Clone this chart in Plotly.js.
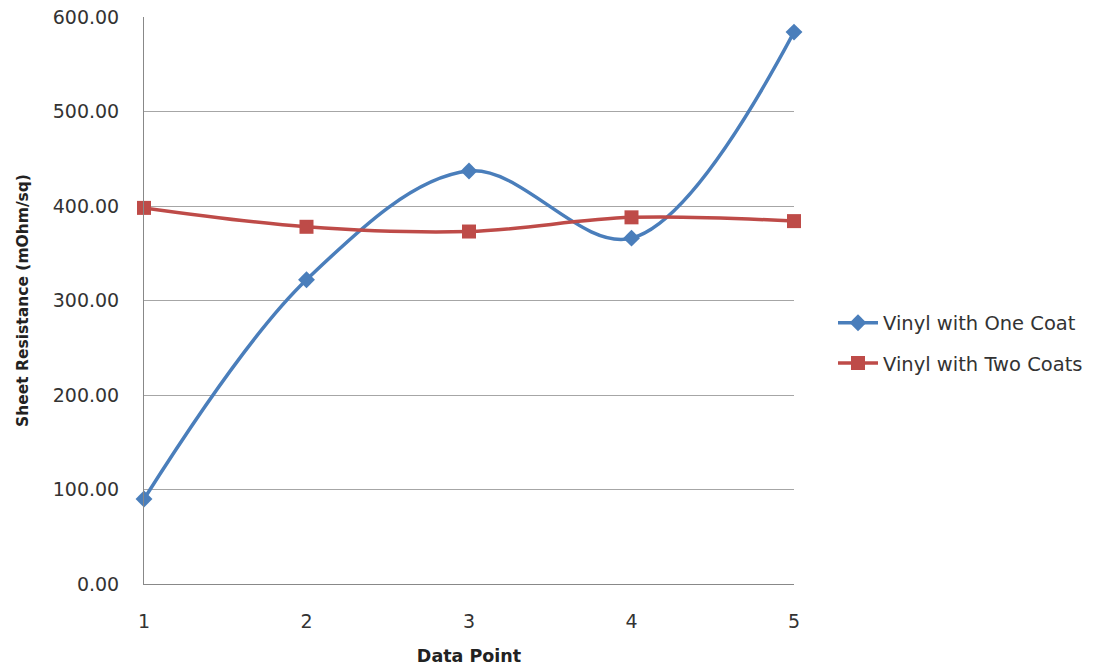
<!DOCTYPE html>
<html><head><meta charset="utf-8">
<script src="https://cdn.plot.ly/plotly-3.0.1.min.js"></script>
<style>body{margin:0;background:#fff}#c{width:1106px;height:670px}</style>
</head><body><div id="c"></div>
<script>
const dataPoints = [1, 2, 3, 4, 5];
const oneCoat = [90, 322, 437, 366, 584];
const twoCoats = [398, 378, 373, 388, 384];
const yTicks = [0, 100, 200, 300, 400, 500, 600];
const yTickText = yTicks.map(v => v.toFixed(2));

const fontFam = 'DejaVu Sans, sans-serif';
const traces = [
  {x: dataPoints, y: oneCoat, name: 'Vinyl with One Coat', mode: 'lines+markers', legendgroup: 'a',
   cliponaxis: false,
   line: {color: '#4a7ebb', width: 3.5, shape: 'spline', smoothing: 1},
   marker: {symbol: 'diamond', size: 13, color: '#4a7ebb'}},
  {x: dataPoints, y: twoCoats, name: 'Vinyl with Two Coats', mode: 'lines+markers', legendgroup: 'b',
   cliponaxis: false,
   line: {color: '#be4b48', width: 3.5, shape: 'spline', smoothing: 1},
   marker: {symbol: 'square', size: 14, color: '#be4b48'}}
];
const layout = {
  width: 1106, height: 670,
  margin: {l: 144, r: 312, t: 17, b: 86},
  paper_bgcolor: '#fff', plot_bgcolor: '#fff',
  font: {family: fontFam, size: 19, color: '#333'},
  xaxis: {range: [1, 5], tickvals: dataPoints, ticktext: dataPoints.map(String),
    showgrid: false, zeroline: false, showline: true, linecolor: '#888', linewidth: 1,
    ticks: '', ticklabelstandoff: 20, tickfont: {size: 19, color: '#333'},
    title: {text: '<b>Data Point</b>', font: {size: 17.5, color: '#222'}, standoff: 18}},
  yaxis: {range: [0, 600], tickvals: yTicks, ticktext: yTickText,
    showgrid: true, gridcolor: '#a6a6a6', gridwidth: 1, zeroline: false,
    showline: true, linecolor: '#888', linewidth: 1, ticks: '', ticklabelstandoff: 20,
    tickfont: {size: 19, color: '#333'},
    title: {text: '<b>Sheet Resistance (mOhm/sq)</b>', font: {size: 15.5, color: '#222'}, standoff: 20}},
  legend: {x: 1.06, y: 0.425, xanchor: 'left', yanchor: 'middle', font: {size: 19.5, color: '#333'},
    tracegroupgap: 12, itemwidth: 40},
  showlegend: true
};
Plotly.newPlot('c', traces, layout, {displayModeBar: false, staticPlot: true});
</script></body></html>
